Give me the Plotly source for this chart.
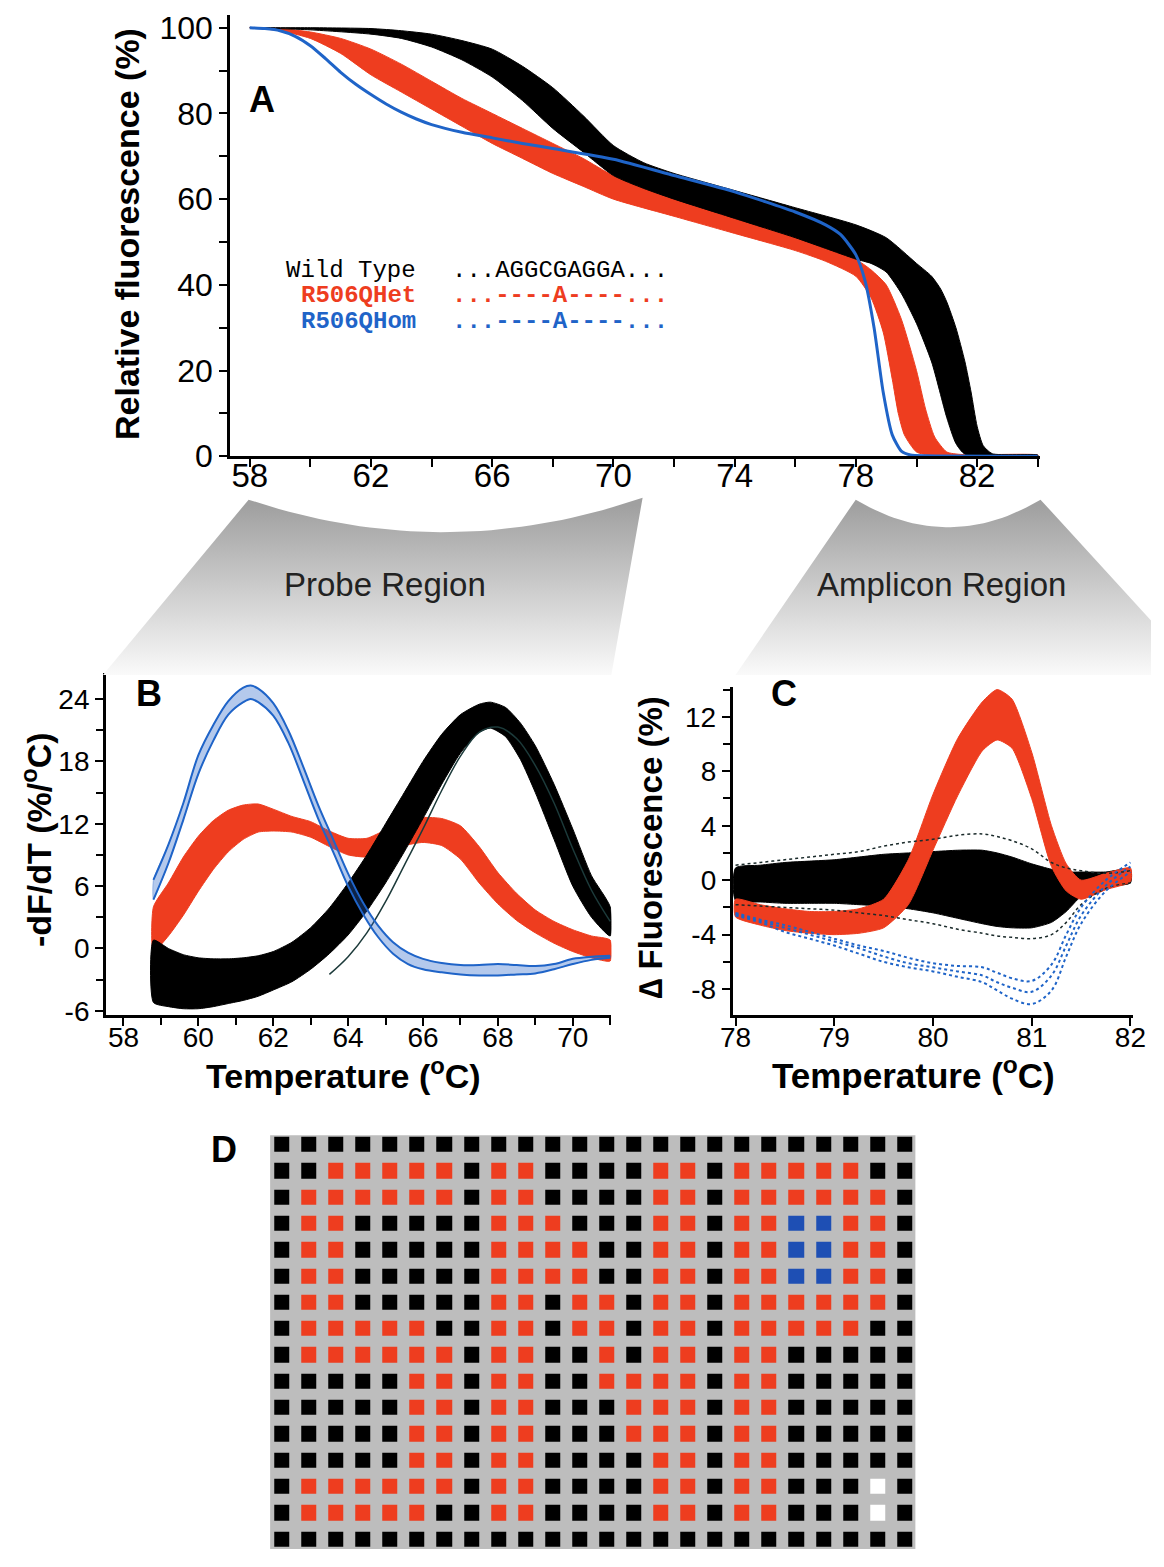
import numpy as np
import plotly.graph_objects as go

W, H = 1164, 1567

# ---------------- Panel A : melting curves (Relative fluorescence %) ----------------
A_wt_hi_T = [58, 60, 62, 63, 64, 65, 66, 67, 68, 69, 70, 71, 72, 74, 76, 78, 79, 80, 80.5, 80.8, 81, 81.3, 81.6, 81.8, 82.0, 82.2, 82.5, 84]
A_wt_hi_F = [100, 100, 99.8, 99.3, 98.5, 97, 95, 91, 86, 79.5, 72.5, 68.5, 66, 62, 58, 54, 51, 45, 42, 39, 36, 30, 22, 15, 7, 2.5, 0.6, 0.3]
A_wt_lo_T = [58, 60, 62, 63, 64, 65, 66, 67, 68, 69, 70, 71, 72, 74, 76, 77, 78, 78.5, 79, 79.5, 80, 80.5, 81, 81.3, 81.6, 84]
A_wt_lo_F = [100, 99.5, 98.5, 97.5, 95.5, 92.5, 88.5, 83, 76.5, 71, 65.5, 62.5, 60, 55.5, 51, 48.5, 46, 45, 43, 38, 31, 22, 9, 3, 0.5, 0]

A_het_hi_T = [58, 59, 60, 61, 62, 63, 64, 65, 66, 67, 68, 69, 70, 72, 74, 76, 77, 78, 78.5, 79, 79.5, 80, 80.3, 80.6, 81, 81.5, 84]
A_het_hi_F = [100, 99.8, 99, 97.5, 95, 91.5, 87.5, 83.5, 80, 76.5, 73, 69.5, 65.5, 61, 56.5, 52.5, 50, 46, 43.5, 40, 32, 20, 11, 4.5, 1, 0.4, 0.3]
A_het_lo_T = [58, 59, 60, 61, 62, 63, 64, 65, 66, 67, 68, 69, 70, 72, 74, 76, 77, 78, 78.5, 78.9, 79.2, 79.4, 79.6, 80, 80.5, 84]
A_het_lo_F = [100, 99.3, 97.5, 94, 89, 85, 81, 77, 73, 69.5, 66, 63, 60, 56, 52, 48, 45.5, 42, 37, 29, 18, 10, 5, 1, 0.2, 0]

A_hom_T = [58, 58.5, 59, 59.5, 60, 60.5, 61, 61.5, 62, 62.5, 63, 63.5, 64, 65, 66, 67, 68, 70, 72, 74, 76, 77, 77.5, 78, 78.3, 78.6, 78.9, 79.2, 79.5, 79.8, 80.3, 84]
A_hom_F = [100, 99.8, 99.3, 98, 95.8, 92.8, 89.6, 86.8, 84.4, 82.2, 80.3, 78.7, 77.4, 75.6, 74.3, 73, 71.8, 69.3, 65.5, 61.7, 57, 54, 51.7, 47, 41, 30, 15, 5, 1.2, 0.3, 0.1, 0]

A_xticks = [58, 62, 66, 70, 74, 78, 82]
A_yticks = [0, 20, 40, 60, 80, 100]

# ---------------- Panel B : derivative plots (-dF/dT) ----------------
B_hom_T = [58.8, 59.2, 59.6, 60.0, 60.4, 60.8, 61.2, 61.4, 61.6, 62.0, 62.4, 62.8, 63.2, 63.6, 64.0, 64.4, 64.8, 65.2, 65.6, 66.0, 66.5, 67, 67.5, 68, 68.5, 69, 69.5, 70, 70.5, 71]
B_hom_hi = [6.6, 10, 14, 18.6, 21.5, 23.8, 25.1, 25.3, 25, 23.6, 21, 17.5, 13.8, 10.5, 7.2, 4.4, 2.2, 0.6, -0.4, -1.0, -1.4, -1.6, -1.6, -1.5, -1.6, -1.7, -1.5, -1.0, -0.8, -0.7]
B_hom_lo = [4.7, 8.2, 12.4, 16.8, 20.0, 22.5, 23.7, 24.0, 23.7, 22.4, 19.8, 16.2, 12.5, 9.3, 6.0, 3.3, 1.1, -0.5, -1.5, -2.0, -2.3, -2.5, -2.6, -2.6, -2.5, -2.4, -2.0, -1.5, -1.1, -0.9]

B_het_T = [58.8, 59.2, 59.6, 60.0, 60.4, 60.8, 61.2, 61.6, 62.0, 62.5, 63.0, 63.5, 64.0, 64.5, 65.0, 65.5, 66.0, 66.5, 67.0, 67.5, 68.0, 68.5, 69.0, 69.5, 70.0, 70.5, 71.0]
B_het_hi = [4.0, 6.3, 8.8, 10.8, 12.3, 13.3, 13.8, 13.9, 13.4, 12.7, 12.2, 11.3, 10.6, 10.6, 11.4, 12.2, 12.6, 12.5, 11.8, 9.8, 7.3, 5.3, 3.7, 2.6, 1.8, 1.2, 0.8]
B_het_lo = [-0.3, 1.2, 3.2, 5.5, 7.6, 9.3, 10.5, 11.2, 11.3, 11.2, 10.7, 9.8, 9.0, 8.8, 9.3, 9.9, 10.2, 9.9, 8.6, 6.3, 4.3, 2.7, 1.5, 0.5, -0.3, -0.9, -1.2]

B_wt_T = [58.8, 59.2, 59.6, 60.0, 60.4, 60.8, 61.2, 61.6, 62.0, 62.5, 63.0, 63.5, 64.0, 64.5, 65.0, 65.5, 66.0, 66.5, 67.0, 67.5, 67.8, 68.2, 68.6, 69.0, 69.5, 70.0, 70.5, 71.0]
B_wt_hi = [0.8, 0.0, -0.6, -0.9, -1.0, -1.0, -0.9, -0.7, -0.3, 0.6, 2.0, 3.9, 6.3, 9.0, 12.0, 15.0, 18.0, 20.6, 22.5, 23.5, 23.7, 23.2, 21.7, 19.5, 15.8, 11.5, 7.0, 4.0]
B_wt_lo = [-5.2, -5.6, -5.8, -5.8, -5.6, -5.3, -5.0, -4.6, -4.0, -3.2, -2.0, -0.5, 1.3, 3.6, 6.3, 9.3, 12.5, 15.8, 18.8, 20.8, 21.2, 20.4, 18.2, 15.0, 10.5, 6.0, 3.0, 1.2]
B_wt_out_T = [63.5, 64.0, 64.5, 65.0, 65.5, 66.0, 66.5, 67.0, 67.5, 68.0, 68.5, 69.0, 69.5, 70.0, 70.5, 71.0]
B_wt_out = [-2.5, -0.8, 1.5, 4.5, 8.0, 11.5, 15.2, 18.5, 20.8, 21.3, 20.2, 17.6, 14.0, 9.6, 5.6, 2.6]

B_xticks = [58, 60, 62, 64, 66, 68, 70]
B_yticks = [-6, 0, 6, 12, 18, 24]

# ---------------- Panel C : difference plots (delta fluorescence) ----------------
C_T = [78.0, 78.25, 78.5, 78.75, 79.0, 79.25, 79.5, 79.75, 80.0, 80.25, 80.5, 80.65, 80.8, 81.0, 81.2, 81.35, 81.5, 81.75, 82.0]
C_het_hi = [-1.4, -1.8, -2.1, -2.3, -2.3, -2.1, -1.4, 1.5, 6.3, 10.4, 13.1, 14.0, 13.3, 9.4, 4.0, 1.2, 0.0, 0.5, 0.9]
C_het_lo = [-2.7, -3.3, -3.7, -3.9, -4.0, -3.9, -3.5, -1.8, 2.2, 6.2, 9.5, 10.3, 9.7, 6.0, 1.0, -0.8, -1.4, -0.7, -0.1]
C_wt_hi = [0.9, 1.1, 1.3, 1.4, 1.5, 1.7, 1.9, 2.0, 2.1, 2.2, 2.2, 2.0, 1.7, 1.2, 0.8, 0.6, 0.6, 0.6, 0.8]
C_wt_lo = [-1.5, -1.6, -1.7, -1.7, -1.7, -1.8, -1.9, -2.1, -2.4, -2.8, -3.2, -3.4, -3.5, -3.5, -3.1, -2.3, -1.2, -0.5, -0.2]
C_wt_out_hi = [1.1, 1.3, 1.5, 1.7, 1.9, 2.1, 2.5, 2.8, 3.0, 3.3, 3.4, 3.2, 2.9, 2.3, 1.3, 0.9, 0.7, 0.5, 0.7]
C_wt_out_lo = [-1.8, -1.9, -2.0, -2.1, -2.2, -2.4, -2.6, -2.9, -3.2, -3.6, -3.9, -4.1, -4.2, -4.3, -4.0, -3.1, -1.8, -0.6, -0.2]
C_hom_1 = [-2.4, -2.9, -3.3, -3.8, -4.3, -4.8, -5.2, -5.7, -6.1, -6.3, -6.4, -6.8, -7.2, -7.4, -6.2, -4.0, -2.0, 0.0, 1.3]
C_hom_2 = [-2.5, -3.0, -3.5, -4.0, -4.5, -5.0, -5.6, -6.1, -6.4, -6.7, -7.0, -7.5, -7.9, -8.2, -7.0, -4.8, -2.6, -0.4, 1.0]
C_hom_3 = [-2.6, -3.1, -3.8, -4.3, -4.8, -5.4, -6.0, -6.4, -6.7, -7.1, -7.5, -8.1, -8.7, -9.1, -8.1, -5.6, -3.2, -0.8, 0.6]

C_xticks = [78, 79, 80, 81, 82]
C_yticks = [-8, -4, 0, 4, 8, 12]

# ---------------- Panel D : 384-well plate genotype calls ----------------
# K = wild type (black), R = heterozygote (red), U = homozygote (blue), W = empty well (white)
D_rows = [
    "KKKKKKKKKKKKKKKKKKKKKKKK",
    "KKRRRRRKRRKKKKRRKRRRRRKK",
    "KRRRRRRKRRKKKKRRKRRRRRRK",
    "KRRKKKKKRRRKKKRRKRRUURRK",
    "KRRKKKKKRRRRKKRRKRRUURRK",
    "KRRKKKKKRRRRKKRRKRRUURRK",
    "KRRKKKKKRRKRRKRRKRRRRRRK",
    "KRRRRRKKRRKRRKRRKRRRRRKK",
    "KRRRRRRKRRKKRKRRKRRKKKKK",
    "KKKKKRRKRRKKRRRRKRRKKKKK",
    "KKKKKRRKRRKKKRRRKRRKKKKK",
    "KKKKKRRKRRKKKRRRKRRKKKKK",
    "KKKKKRRKRRKKKKRRKRRKKKKK",
    "KRRRRRRKRRKKKKRRKRRKKKWK",
    "KRRRRRKKRRKKKKRRKRRKKKWK",
    "KKKKKKKKKKKKKKKKKKKKKKKK",
]
D_code = {"K": 0, "R": 1, "U": 2, "W": 3}

# ---------------- styling ----------------
BLACK = "#000000"
RED = "#ee3d1f"
BLUE = "#1f64c8"
BLUE_D = "#1e4fb4"
SANS = "Liberation Sans, Arial, Helvetica, sans-serif"
MONO = "Courier New, Courier, Liberation Mono, monospace"

fig = go.Figure()


def band(xa, ya, xb, yb, color, xr, yr, smooth=0.6):
    """filled region between two curves (first forward, second backward)"""
    xs = list(xa) + list(xb)[::-1] + [xa[0]]
    ys = list(ya) + list(yb)[::-1] + [ya[0]]
    return go.Scatter(x=xs, y=ys, mode="lines", fill="toself", fillcolor=color,
                      line=dict(color=color, width=1, shape="spline", smoothing=smooth),
                      xaxis=xr, yaxis=yr, hoverinfo="skip")


# Panel A
fig.add_trace(band(A_het_hi_T, A_het_hi_F, A_het_lo_T, A_het_lo_F, RED, "x", "y"))
fig.add_trace(band(A_wt_hi_T, A_wt_hi_F, A_wt_lo_T, A_wt_lo_F, BLACK, "x", "y"))
fig.add_trace(go.Scatter(x=A_hom_T, y=A_hom_F, mode="lines",
                         line=dict(color=BLUE, width=3, shape="spline", smoothing=0.6),
                         xaxis="x", yaxis="y", hoverinfo="skip"))

# Panel B
fig.add_trace(band(B_het_T, B_het_hi, B_het_T, B_het_lo, RED, "x2", "y2"))
fig.add_trace(band(B_wt_T, B_wt_hi, B_wt_T, B_wt_lo, BLACK, "x2", "y2"))
fig.add_trace(go.Scatter(x=B_wt_out_T, y=B_wt_out, mode="lines",
                         line=dict(color="#1c3a3a", width=1.5, shape="spline"),
                         xaxis="x2", yaxis="y2", hoverinfo="skip"))
fig.add_trace(band(B_hom_T, B_hom_hi, B_hom_T, B_hom_lo, "rgba(40,100,200,0.35)", "x2", "y2"))
for yv in (B_hom_hi, B_hom_lo):
    fig.add_trace(go.Scatter(x=B_hom_T, y=yv, mode="lines",
                             line=dict(color=BLUE, width=2, shape="spline"),
                             xaxis="x2", yaxis="y2", hoverinfo="skip"))

# Panel C
fig.add_trace(band(C_T, C_wt_hi, C_T, C_wt_lo, BLACK, "x3", "y3"))
fig.add_trace(band(C_T, C_het_hi, C_T, C_het_lo, RED, "x3", "y3"))
for yv in (C_wt_out_hi, C_wt_out_lo):
    fig.add_trace(go.Scatter(x=C_T, y=yv, mode="lines",
                             line=dict(color="#1a2a2a", width=1.5, dash="dot", shape="spline"),
                             xaxis="x3", yaxis="y3", hoverinfo="skip"))
for yv in (C_hom_1, C_hom_2, C_hom_3):
    fig.add_trace(go.Scatter(x=C_T, y=yv, mode="lines",
                             line=dict(color=BLUE, width=2, dash="dot", shape="spline"),
                             xaxis="x3", yaxis="y3", hoverinfo="skip"))

# Panel D
z = [[D_code[c] for c in row] for row in D_rows]
fig.add_trace(go.Heatmap(
    z=z, xaxis="x4", yaxis="y4", zmin=0, zmax=3, showscale=False, xgap=12, ygap=11,
    colorscale=[[0, BLACK], [0.1667, BLACK], [0.1667, RED], [0.5, RED],
                [0.5, BLUE_D], [0.8333, BLUE_D], [0.8333, "#ffffff"], [1, "#ffffff"]],
    hoverinfo="skip"))


# Funnel decorations (pixel-space overlay) linking panel A to panels B and C
def funnel(top_l, top_r, dip_y, bot_l, bot_r):
    t = np.linspace(0, 1, 40)
    cx = (top_l[0] + top_r[0]) / 2
    cy = 2 * dip_y - (top_l[1] + top_r[1]) / 2
    xs = (1 - t) ** 2 * top_l[0] + 2 * (1 - t) * t * cx + t ** 2 * top_r[0]
    ys = (1 - t) ** 2 * top_l[1] + 2 * (1 - t) * t * cy + t ** 2 * top_r[1]
    xs = list(xs) + [bot_r[0], bot_l[0], top_l[0]]
    ys = list(ys) + [bot_r[1], bot_l[1], top_l[1]]
    return go.Scatter(x=xs, y=ys, mode="lines", fill="toself", line=dict(width=0),
                      fillgradient=dict(type="vertical", start=680, stop=500,
                                        colorscale=[[0, "#ffffff"], [1, "#a0a0a0"]]),
                      xaxis="x5", yaxis="y5", hoverinfo="skip")


fig.add_trace(funnel((241, 502), (644, 500), 535, (92, 680), (612, 680)))
fig.add_trace(funnel((862, 502), (1051, 502), 530, (739, 680), (1215, 680)))

axis_common = dict(showline=True, linecolor=BLACK, linewidth=2.5, ticks="outside",
                   ticklen=8, tickwidth=2, tickcolor=BLACK, showgrid=False,
                   zeroline=False, mirror=False)


def minor(dt, t0, ln=7):
    return dict(dtick=dt, tick0=t0, ticks="outside", ticklen=ln, tickwidth=2, tickcolor=BLACK)


def py(p):
    return 1 - p / H


fig.update_layout(
    width=W, height=H, margin=dict(l=0, r=0, t=0, b=0),
    paper_bgcolor="white", plot_bgcolor="rgba(0,0,0,0)", showlegend=False,
    xaxis=dict(axis_common, domain=[222 / W, 1050 / W], range=[57.35, 84.06], anchor="y",
               tickvals=A_xticks, minor=minor(2, 58, 8), ticklabelstandoff=-20,
               tickfont=dict(family=SANS, size=33, color=BLACK)),
    yaxis=dict(axis_common, domain=[py(458), py(10)], range=[0, 103], anchor="x",
               tickvals=A_yticks, minor=minor(10, 0, 8),
               tickfont=dict(family=SANS, size=32, color=BLACK)),
    xaxis2=dict(axis_common, domain=[95 / W, 612 / W], range=[57.53, 71.03], anchor="y2",
                tickvals=B_xticks, minor=minor(1, 58), ticklabelstandoff=-12,
                tickfont=dict(family=SANS, size=28, color=BLACK)),
    yaxis2=dict(axis_common, domain=[py(1025), py(678)], range=[-6.4, 26.5], anchor="x2",
                tickvals=B_yticks, ticktext=[str(v) for v in B_yticks], minor=minor(3, -6),
                tickfont=dict(family=SANS, size=28, color=BLACK)),
    xaxis3=dict(axis_common, domain=[736 / W, 1146 / W], range=[77.97, 82.03], anchor="y3",
                tickvals=C_xticks, ticklabelstandoff=-12,
                tickfont=dict(family=SANS, size=28, color=BLACK)),
    yaxis3=dict(axis_common, domain=[py(1025), py(692)], range=[-9.9, 14.2], anchor="x3",
                tickvals=C_yticks, ticktext=[str(v) for v in C_yticks], minor=minor(2, 0),
                tickfont=dict(family=SANS, size=28, color=BLACK)),
    xaxis4=dict(domain=[263 / W, 923 / W], range=[-0.43, 23.4], anchor="y4", visible=False),
    yaxis4=dict(domain=[0, py(1147)], range=[15.36, -0.37], anchor="x4", visible=False),
    xaxis5=dict(domain=[0, 1], range=[0, W], anchor="y5", visible=False),
    yaxis5=dict(domain=[0, 1], range=[H, 0], anchor="x5", visible=False),
)

fig.add_shape(type="rect", xref="x4 domain", yref="y4 domain", x0=0, x1=1, y0=0, y1=1,
              fillcolor="#bdbdbd", line=dict(width=0), layer="below")

ann = []


def text(x, y, s, size, family=SANS, color=BLACK, angle=0, xanchor="center"):
    ann.append(dict(x=x / W, y=py(y), xref="paper", yref="paper", text=s, showarrow=False,
                    font=dict(family=family, size=size, color=color), textangle=angle,
                    xanchor=xanchor, yanchor="middle"))


# panel letters
text(255, 96, "<b>A</b>", 36)
text(139, 699, "<b>B</b>", 36)
text(789, 699, "<b>C</b>", 36)
text(216, 1162, "<b>D</b>", 36)

# axis titles
text(116, 232, "<b>Relative fluorescence (%)</b>", 34, angle=-90)
text(24, 847, "<b>-dF/dT (%/<sup>o</sup>C)</b>", 34, angle=-90)
text(652, 855, "<b>∆ Fluorescence (%)</b>", 33, angle=-90)
text(338, 1084, "<b>Temperature (<sup>o</sup>C)</b>", 34)
text(921, 1084, "<b>Temperature (<sup>o</sup>C)</b>", 35)

# region labels
text(381, 588, "Probe Region", 33, color="#222222")
text(950, 588, "Amplicon Region", 33, color="#222222")

# sequence legend in panel A
text(414, 269, "Wild Type", 24, family=MONO, xanchor="right")
text(447, 269, "...AGGCGAGGA...", 24, family=MONO, xanchor="left")
text(414, 295, "<b>R506QHet</b>", 24, family=MONO, color=RED, xanchor="right")
text(447, 295, "<b>...----A----...</b>", 24, family=MONO, color=RED, xanchor="left")
text(414, 321, "<b>R506QHom</b>", 24, family=MONO, color=BLUE, xanchor="right")
text(447, 321, "<b>...----A----...</b>", 24, family=MONO, color=BLUE, xanchor="left")

fig.update_layout(annotations=ann)
fig.write_html("out.html")
